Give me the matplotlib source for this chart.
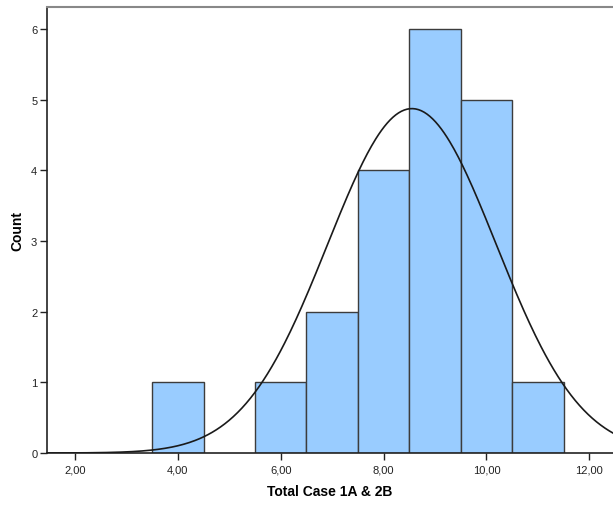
import numpy as np
import matplotlib
matplotlib.use("Agg")
import matplotlib.pyplot as plt
from matplotlib.ticker import FixedLocator, FuncFormatter

plt.rcParams['font.family'] = ['Liberation Sans', 'DejaVu Sans']

# Histogram bins (centres) and their counts
bin_centers = [4, 6, 7, 8, 9, 10, 11]
counts = [1, 1, 2, 4, 6, 5, 1]
bin_width = 1.0

x_ticks = [2, 4, 6, 8, 10, 12]
y_ticks = [0, 1, 2, 3, 4, 5, 6]

# Summary statistics for the fitted normal curve
values = np.repeat(bin_centers, counts)
n = len(values)
mu = values.mean()
sd = values.std(ddof=1)

fig = plt.figure(figsize=(6.13, 5.06), dpi=100)
ax = fig.add_axes([47 / 613, 52 / 506, 1 - 47 / 613, (454 - 8) / 506])

ax.bar(bin_centers, counts, width=bin_width, color='#99ccff',
       edgecolor='#3c3c3c', linewidth=1.0, zorder=2)

xs = np.linspace(1.45, 12.5, 400)
ys = n * bin_width / (sd * np.sqrt(2 * np.pi)) * np.exp(-0.5 * ((xs - mu) / sd) ** 2)
ax.plot(xs, ys, color='#1a1a1a', linewidth=1.2, zorder=3)

ax.set_xlim(1.455, 12.46)
ax.set_ylim(0, 6.31)

ax.xaxis.set_major_locator(FixedLocator(x_ticks))
ax.yaxis.set_major_locator(FixedLocator(y_ticks))
ax.xaxis.set_major_formatter(FuncFormatter(lambda v, p: f"{v:.2f}".replace('.', ',')))
ax.yaxis.set_major_formatter(FuncFormatter(lambda v, p: f"{int(v)}"))

ax.tick_params(axis='both', labelsize=8, colors='#222222', length=5, width=1.0,
               direction='out')
ax.tick_params(axis='x', pad=3)
ax.tick_params(axis='y', pad=2)

for side in ['left', 'bottom']:
    ax.spines[side].set_color('#222222')
    ax.spines[side].set_linewidth(1.2)
ax.spines['top'].set_color('#888888')
ax.spines['top'].set_linewidth(1.5)
ax.spines['right'].set_visible(False)

ax.set_xlabel('Total Case 1A & 2B', fontsize=10, fontweight='bold', labelpad=7)
ax.set_ylabel('Count', fontsize=10, fontweight='bold', labelpad=5)

fig.savefig('out.png', dpi=100)
